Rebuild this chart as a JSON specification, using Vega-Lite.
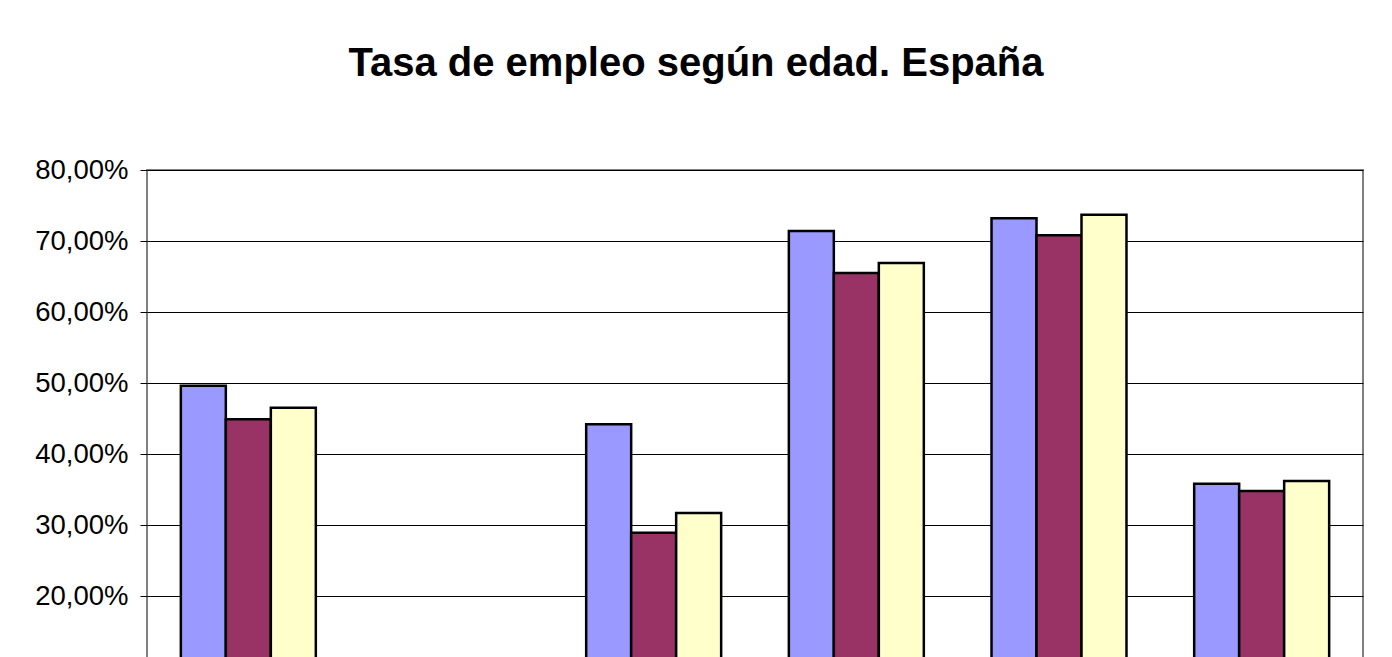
{
  "$schema": "https://vega.github.io/schema/vega-lite/v6.json",
  "autosize": {"type": "none"},
  "width": 1216,
  "height": 568,
  "padding": {"left": 147, "top": 170, "right": 29, "bottom": 120},
  "background": "white",
  "title": {
    "text": "Tasa de empleo según edad. España",
    "font": "Liberation Sans",
    "fontSize": 40,
    "fontWeight": "bold",
    "color": "black",
    "anchor": "middle",
    "dx": -59,
    "offset": 72
  },
  "data": {
    "values": [
      {"edad": "Total", "serie": "2008", "tasa": 0.496},
      {"edad": "Total", "serie": "2009", "tasa": 0.449},
      {"edad": "Total", "serie": "2010", "tasa": 0.465},
      {"edad": "20-24", "serie": "2008", "tasa": 0.442},
      {"edad": "20-24", "serie": "2009", "tasa": 0.289},
      {"edad": "20-24", "serie": "2010", "tasa": 0.317},
      {"edad": "25-34", "serie": "2008", "tasa": 0.714},
      {"edad": "25-34", "serie": "2009", "tasa": 0.655},
      {"edad": "25-34", "serie": "2010", "tasa": 0.669},
      {"edad": "35-54", "serie": "2008", "tasa": 0.732},
      {"edad": "35-54", "serie": "2009", "tasa": 0.708},
      {"edad": "35-54", "serie": "2010", "tasa": 0.737},
      {"edad": "55-64", "serie": "2008", "tasa": 0.358},
      {"edad": "55-64", "serie": "2009", "tasa": 0.348},
      {"edad": "55-64", "serie": "2010", "tasa": 0.362}
    ]
  },
  "mark": {"type": "bar", "stroke": "black", "strokeWidth": 2.5},
  "encoding": {
    "x": {
      "field": "edad",
      "type": "nominal",
      "sort": null,
      "scale": {"domain": ["Total", "16-19", "20-24", "25-34", "35-54", "55-64"], "paddingInner": 0.334, "paddingOuter": 0.167},
      "axis": {"title": null, "labelAngle": 0, "labelFont": "Liberation Sans", "labelFontSize": 27, "labelColor": "black", "domainColor": "#808080", "tickColor": "black", "grid": false}
    },
    "xOffset": {
      "field": "serie",
      "type": "nominal",
      "scale": {"paddingInner": 0, "paddingOuter": 0}
    },
    "y": {
      "field": "tasa",
      "type": "quantitative",
      "scale": {"domain": [0, 0.8], "nice": false},
      "axis": {
        "title": null,
        "values": [0, 0.1, 0.2, 0.3, 0.4, 0.5, 0.6, 0.7, 0.8],
        "labelExpr": "replace(format(datum.value, '.2%'), '.', ',')",
        "labelFont": "Liberation Sans",
        "labelFontSize": 27.5,
        "labelColor": "black",
        "labelPadding": 12,
        "tickSize": 7,
        "tickColor": "black",
        "domain": false,
        "gridColor": "black",
        "gridWidth": 1,
        "gridOpacity": 1
      }
    },
    "color": {
      "field": "serie",
      "type": "nominal",
      "scale": {"range": ["#9999ff", "#993366", "#ffffcc"]},
      "legend": {"title": null, "orient": "bottom", "labelFont": "Liberation Sans", "labelFontSize": 20, "symbolType": "square", "symbolStrokeColor": "black"}
    }
  },
  "config": {
    "view": {"stroke": "#808080", "strokeWidth": 2}
  }
}
